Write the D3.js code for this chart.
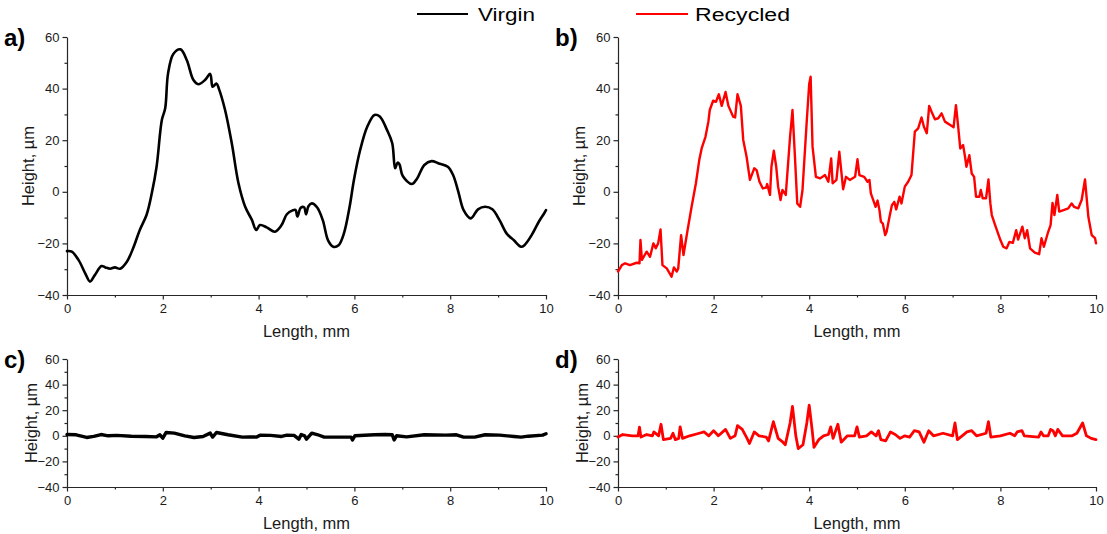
<!DOCTYPE html>
<html>
<head>
<meta charset="utf-8">
<script src="https://cdn.jsdelivr.net/npm/d3@7"></script>
<style>
  html, body { margin: 0; background: #fff; }
  svg { display: block; }
  text { font-family: "Liberation Sans", Arial, sans-serif; }
</style>
</head>
<body>
<svg id="chart" width="1107" height="534"></svg>
<script>
// Axis ticks
const lengthTicks = [0, 2, 4, 6, 8, 10];
const lengthMinorTicks = [1, 3, 5, 7, 9];
const heightTicks = [-40, -20, 0, 20, 40, 60];
const heightMinorTicks = [-30, -10, 10, 30, 50];
const seriesNames = ["Virgin", "Recycled"];
const panelLabels = ["a)", "b)", "c)", "d)"];

// Surface profiles: [length in mm, height in µm]
const virginProfile = [
  [0,-23],[0.1,-23.2],[0.24,-26.4],[0.38,-31.6],[0.48,-34.8],[0.58,-32.3],[0.72,-28.8],[0.8,-29.3],
  [0.9,-29.8],[1.0,-29.3],[1.11,-29.8],[1.25,-27.1],[1.38,-21.9],[1.52,-14.8],[1.66,-9],[1.77,-0.6],
  [1.87,9.7],[1.98,27.8],[2.05,32.4],[2.11,45.9],[2.22,53.4],[2.37,55.2],[2.5,51.1],[2.64,43.3],
  [2.74,41.7],[2.88,43.3],[2.99,45.7],[3.04,40.7],[3.12,42],[3.17,40],[3.3,31.7],[3.44,18.8],
  [3.58,3.3],[3.72,-5.8],[3.86,-10.9],[3.95,-14.8],[4.03,-12.9],[4.17,-13.8],[4.34,-15.5],[4.48,-12.9],
  [4.59,-8.7],[4.71,-7.2],[4.77,-7.0],[4.81,-9.6],[4.88,-6.2],[4.95,-6.0],[4.99,-8.7],[5.04,-5.6],
  [5.11,-4.5],[5.22,-6],[5.34,-11],[5.45,-18.8],[5.56,-21.3],[5.67,-20.7],[5.78,-16.2],[5.9,-5.8],
  [5.99,4.6],[6.12,16.2],[6.27,25.3],[6.42,29.8],[6.53,29.2],[6.68,24],[6.79,18.8],[6.85,9.1],
  [6.9,11.3],[6.94,10.7],[7.01,6.1],[7.2,3],[7.31,5.2],[7.46,10.4],[7.61,11.9],[7.76,11],
  [7.95,9.7],[8.06,6.5],[8.17,0],[8.28,-7.1],[8.43,-10.3],[8.58,-6.8],[8.73,-5.8],[8.88,-6.8],
  [9.03,-11],[9.18,-16.2],[9.33,-18.8],[9.48,-21.3],[9.55,-20.7],[9.7,-16.8],[9.85,-11.6],[9.96,-8.4],
  [10,-7.1]
];

const recycledProfile = [
  [0,-30.9],[0.08,-28.4],[0.15,-27.7],[0.25,-28.4],[0.39,-27.5],[0.45,-27.7],[0.47,-18.7],[0.5,-26.4],
  [0.6,-23.2],[0.67,-25.2],[0.74,-20],[0.79,-21.9],[0.84,-20],[0.89,-14.6],[0.93,-28.4],[1.02,-29.7],
  [1.12,-32.9],[1.17,-29.3],[1.23,-30.9],[1.26,-29.7],[1.32,-16.8],[1.37,-24.5],[1.45,-15.5],[1.54,-5.8],
  [1.63,3.3],[1.7,12.3],[1.75,16.8],[1.83,21.3],[1.89,27.1],[1.92,31.7],[1.99,35.3],[2.05,34.9],
  [2.11,37.8],[2.17,33.3],[2.25,38.7],[2.31,33.3],[2.41,29.1],[2.45,28.8],[2.5,37.8],[2.57,33.3],
  [2.62,20.1],[2.69,13.6],[2.76,4.6],[2.85,9.1],[2.9,8.4],[2.96,3.9],[3.03,1.3],[3.1,1.6],
  [3.12,3],[3.18,-1.2],[3.21,9.7],[3.26,15.9],[3.31,9.7],[3.35,2],[3.4,-3.2],[3.44,0.7],
  [3.51,-1.2],[3.6,21.4],[3.65,31.7],[3.7,14.2],[3.75,-4.5],[3.81,-5.8],[3.86,0.7],[3.95,27.8],
  [4.0,41.8],[4.03,44.6],[4.07,17.5],[4.14,5.8],[4.23,5.2],[4.33,6.5],[4.4,3.9],[4.46,12.9],
  [4.49,3.3],[4.57,4.6],[4.63,15.5],[4.71,1],[4.77,5.8],[4.85,4.6],[4.96,5.8],[5.01,12.6],
  [5.05,6.5],[5.15,5.8],[5.22,3.9],[5.26,4.6],[5.29,-0.6],[5.34,-3.2],[5.39,-5.8],[5.43,-3.4],
  [5.47,-7.1],[5.5,-11.6],[5.54,-12.3],[5.59,-16.8],[5.62,-15.5],[5.68,-9.7],[5.73,-5.2],[5.78,-3.9],
  [5.82,-6.8],[5.89,-1.9],[5.93,-4.5],[6.0,2],[6.07,3.9],[6.14,6.5],[6.21,23.3],[6.28,24.6],
  [6.35,28.8],[6.4,25.2],[6.46,22.7],[6.51,33.3],[6.56,31],[6.63,28.1],[6.7,28.5],[6.77,30.4],
  [6.84,27.2],[6.95,25.9],[7.02,25],[7.07,33.6],[7.11,26.5],[7.16,16.8],[7.22,18.1],[7.26,13.6],
  [7.29,9.7],[7.35,14.2],[7.4,7.1],[7.45,5.8],[7.49,-1.9],[7.56,-1.9],[7.59,0.7],[7.63,-2.5],
  [7.7,-2.5],[7.75,4.8],[7.79,-4.5],[7.82,-9],[7.89,-12.9],[8.0,-18.7],[8.06,-21.3],[8.13,-21.9],
  [8.19,-19.4],[8.26,-19.8],[8.33,-14.9],[8.37,-18.5],[8.46,-13.5],[8.51,-18],[8.56,-14.9],[8.62,-21.9],
  [8.72,-23.6],[8.81,-24.2],[8.86,-18],[8.91,-21.3],[9.0,-15.5],[9.05,-12.9],[9.09,-4.3],[9.13,-9],
  [9.19,-1.2],[9.23,-7.7],[9.32,-7.1],[9.42,-6.4],[9.49,-4.5],[9.54,-5.8],[9.63,-6.4],[9.7,-3.2],
  [9.77,4.8],[9.84,-9.7],[9.91,-16.8],[9.98,-18],[10,-20]
];

// Roughness profiles (waviness removed): [length in mm, height in µm]
const virginRoughness = [
  [0,1.0],[0.19,0.8],[0.41,-1.3],[0.56,-0.5],[0.71,1.0],[0.86,0],[1.04,0.3],[1.34,-0.3],
  [1.64,-0.5],[1.87,-0.8],[1.94,0.8],[2.0,-1.8],[2.07,2.6],[2.24,2.1],[2.46,0],[2.65,-1.3],
  [2.84,-0.5],[2.99,2.1],[3.04,-1.0],[3.12,2.6],[3.36,0.8],[3.66,-1],[3.81,-0.8],[3.96,-1],
  [4.03,0.5],[4.25,0.3],[4.48,-0.5],[4.59,0.5],[4.74,0.3],[4.84,-2.6],[4.89,1.0],[4.96,0],
  [5.0,-2.6],[5.11,2.1],[5.22,1.0],[5.37,-1],[5.6,-1],[5.93,-1],[5.96,-3.2],[6.01,0],
  [6.42,0.8],[6.64,1.0],[6.79,0.8],[6.83,-3.2],[6.88,0],[7.09,-0.8],[7.46,0.8],[7.91,0.5],
  [8.13,0.8],[8.28,-1],[8.51,-1],[8.73,0.8],[9.03,0.5],[9.33,-0.5],[9.48,-1],[9.63,-0.3],
  [9.93,0.5],[10,1.6]
];

const recycledRoughness = [
  [0,-1],[0.1,1],[0.3,0],[0.42,0],[0.45,6.8],[0.48,-1],[0.6,1],[0.72,0],[0.75,3],[0.85,0],
  [0.9,9],[0.95,-3],[1.1,-2],[1.15,2],[1.2,-3],[1.27,-2],[1.3,7],[1.35,-2],[1.5,0],[1.7,2],
  [1.8,3],[1.9,0],[2.0,4],[2.1,0],[2.25,5],[2.35,-2],[2.45,0],[2.5,8],[2.6,5],[2.7,-2],
  [2.75,-6],[2.85,3],[2.95,0],[3.1,-1],[3.15,-4],[3.25,11],[3.35,-2],[3.45,-5],[3.5,-7],[3.6,10],
  [3.65,23],[3.72,0],[3.77,-10],[3.87,-7],[3.95,10],[4.0,24],[4.06,5],[4.1,-9],[4.2,-3],[4.3,0],
  [4.4,1],[4.45,7],[4.5,-2],[4.6,9],[4.67,-5],[4.8,0],[4.95,0],[5.0,7],[5.05,-1],[5.2,0],
  [5.3,3],[5.4,0],[5.45,4],[5.5,-3],[5.6,-4],[5.7,3],[5.8,1],[5.9,-2],[6.0,0],[6.1,-1],
  [6.2,4],[6.3,3],[6.4,-5],[6.5,4],[6.6,0],[6.8,2],[7.0,0],[7.05,10],[7.1,-3],[7.2,0],
  [7.3,3],[7.4,4],[7.5,0],[7.7,2],[7.75,11],[7.8,-1],[8.0,0],[8.2,2],[8.3,0],[8.35,3],
  [8.45,4],[8.5,0],[8.8,-1],[8.85,3],[8.9,0],[9.0,0],[9.05,5],[9.1,4],[9.15,0],[9.2,5],
  [9.3,0],[9.5,0],[9.6,2],[9.72,10],[9.8,0],[9.9,-2],[10,-3]
];

const svg = d3.select("#chart");

const panels = [
  { label: panelLabels[0], data: virginProfile,   color: "#000000", left: 67,  right: 546,  top: 37,  bottom: 295, lw: 2.6, smooth: true,  titleOff: 33 },
  { label: panelLabels[1], data: recycledProfile, color: "#ff0000", left: 618, right: 1096, top: 37,  bottom: 295, lw: 2.4, smooth: false, titleOff: 33 },
  { label: panelLabels[2], data: virginRoughness, color: "#000000", left: 67,  right: 546,  top: 359, bottom: 487, lw: 3.4, smooth: false, titleOff: 30 },
  { label: panelLabels[3], data: recycledRoughness, color: "#ff0000", left: 618, right: 1096, top: 359, bottom: 487, lw: 2.8, smooth: false, titleOff: 30 }
];

const axisColor = "#262626";

panels.forEach(p => {
  const x = d3.scaleLinear().domain([0, 10]).range([p.left, p.right]);
  const y = d3.scaleLinear().domain([-40, 60]).range([p.bottom, p.top]);
  const g = svg.append("g");

  // minor ticks
  g.append("g").attr("transform", `translate(0,${p.bottom})`)
    .call(d3.axisBottom(x).tickValues(lengthMinorTicks).tickSize(2.5).tickFormat("").tickSizeOuter(0))
    .call(s => s.select(".domain").remove());
  g.append("g").attr("transform", `translate(${p.left},0)`)
    .call(d3.axisLeft(y).tickValues(heightMinorTicks).tickSize(2.5).tickFormat("").tickSizeOuter(0))
    .call(s => s.select(".domain").remove());

  // major ticks and labels
  const xa = g.append("g").attr("transform", `translate(0,${p.bottom})`)
    .call(d3.axisBottom(x).tickValues(lengthTicks).tickSize(4.5).tickPadding(4.5).tickSizeOuter(0));
  const ya = g.append("g").attr("transform", `translate(${p.left},0)`)
    .call(d3.axisLeft(y).tickValues(heightTicks).tickSize(4.5).tickPadding(3).tickSizeOuter(0));

  [xa, ya].forEach(a => {
    a.selectAll("path, line").attr("stroke", axisColor).attr("stroke-width", 1.2);
    a.selectAll("text").attr("fill", "#1a1a1a").style("font-size", "13px")
      .style("font-family", '"Liberation Sans", Arial, sans-serif');
  });
  g.selectAll("line").attr("stroke", axisColor).attr("stroke-width", 1.2);

  // axis titles
  g.append("text")
    .attr("x", (p.left + p.right) / 2).attr("y", p.bottom + 42)
    .attr("text-anchor", "middle").style("font-size", "16.5px").attr("fill", "#1a1a1a")
    .text("Length, mm");
  g.append("text")
    .attr("transform", `translate(${p.left - p.titleOff},${(p.top + p.bottom) / 2}) rotate(-90)`)
    .attr("text-anchor", "middle").style("font-size", "16.5px").attr("fill", "#1a1a1a")
    .text("Height, \u00b5m");

  // panel letter
  g.append("text")
    .attr("x", p.left - 63).attr("y", p.top + 9)
    .style("font-size", "24px").style("font-weight", "bold").attr("fill", "#000")
    .text(p.label);

  // profile line
  const line = d3.line()
    .x(d => x(d[0])).y(d => y(d[1]))
    .curve(p.smooth ? d3.curveCatmullRom.alpha(0.5) : d3.curveLinear);
  g.append("path").datum(p.data)
    .attr("d", line)
    .attr("fill", "none")
    .attr("stroke", p.color)
    .attr("stroke-width", p.lw)
    .attr("stroke-linejoin", "round")
    .attr("stroke-linecap", "round");
});

// legend
const legend = [
  { name: seriesNames[0], color: "#000000", x0: 417, x1: 468, tx: 478, len: 57 },
  { name: seriesNames[1], color: "#ff0000", x0: 636, x1: 688, tx: 695, len: 95 }
];
legend.forEach(l => {
  svg.append("line").attr("x1", l.x0).attr("x2", l.x1).attr("y1", 14).attr("y2", 14)
    .attr("stroke", l.color).attr("stroke-width", 2);
  svg.append("text").attr("x", l.tx).attr("y", 20.5)
    .style("font-size", "18px").attr("fill", "#000")
    .attr("textLength", l.len).attr("lengthAdjust", "spacingAndGlyphs")
    .text(l.name);
});
</script>
</body>
</html>
